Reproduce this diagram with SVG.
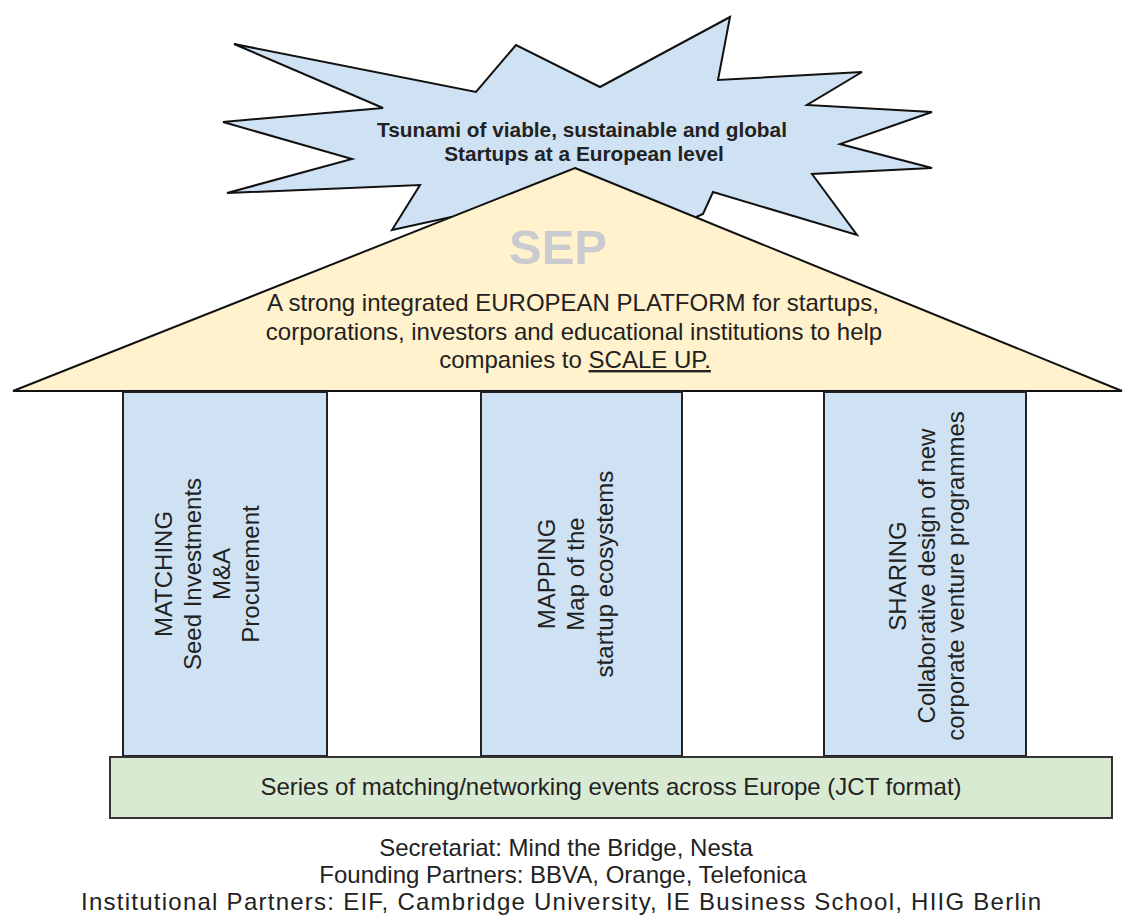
<svg xmlns="http://www.w3.org/2000/svg" width="1125" height="918" viewBox="0 0 1125 918">
<style>
  .t{font-family:"Liberation Sans",Arial,sans-serif;fill:#222;font-size:24px}
  .c{text-anchor:middle}
  .burst{font-weight:bold;font-size:20.8px}
  .foot{font-size:24px}
  .blue{fill:#cfe2f3;stroke:#222;stroke-width:2}
  .edge{stroke:#111;stroke-width:2;stroke-linejoin:miter}
</style>
<rect width="1125" height="918" fill="#fff"/>
<g id="starburst">
  <polygon class="edge" fill="#cfe2f3" points="234,44 476,92 516,45 600,87 730,17 718,80 862,72 807,105 932,112 840,144 932,168 812,174 857,235 713,192 703,214 600,260 500,260 451,217 392,230 420,185 227,193 352,159 223,122 383,108"/>
  <text class="t c burst" x="582" y="137">Tsunami of viable, sustainable and global</text>
  <text class="t c burst" x="584" y="161">Startups at a European level</text>
</g>
<g id="roof">
  <polygon class="edge" fill="#fff2cc" points="575,168 1122,391 13,391"/>
  <text x="558" y="264" font-family="Liberation Sans,Arial,sans-serif" font-weight="bold" font-size="49" fill="#c9cbd1" text-anchor="middle">SEP</text>
  <text class="t c" x="573" y="311">A strong integrated EUROPEAN PLATFORM for startups,</text>
  <text class="t c" x="574" y="340">corporations, investors and educational institutions to help</text>
  <text class="t c" x="575" y="368">companies to <tspan text-decoration="underline">SCALE UP.</tspan></text>
</g>
<g id="pillar-matching">
  <rect class="blue" x="123" y="392" width="204" height="364"/>
  <g transform="translate(0,574) rotate(-90)">
    <text class="t c" x="0" y="172">MATCHING</text>
    <text class="t c" x="0" y="201">Seed Investments</text>
    <text class="t c" x="0" y="230">M&amp;A</text>
    <text class="t c" x="0" y="259">Procurement</text>
  </g>
</g>
<g id="pillar-mapping">
  <rect class="blue" x="481" y="392" width="201" height="364"/>
  <g transform="translate(0,574) rotate(-90)">
    <text class="t c" x="0" y="555">MAPPING</text>
    <text class="t c" x="0" y="584">Map of the</text>
    <text class="t c" x="0" y="613">startup ecosystems</text>
  </g>
</g>
<g id="pillar-sharing">
  <rect class="blue" x="824" y="392" width="202" height="364"/>
  <g transform="translate(0,576) rotate(-90)">
    <text class="t c" x="0" y="906">SHARING</text>
    <text class="t c" x="0" y="935">Collaborative design of new</text>
    <text class="t c" x="0" y="964">corporate venture programmes</text>
  </g>
</g>
<g id="base">
  <rect x="110" y="757" width="1002" height="61" fill="#d9ead3" stroke="#333" stroke-width="2"/>
  <text class="t c" x="611" y="795">Series of matching/networking events across Europe (JCT format)</text>
</g>
<g id="partners">
  <text class="t c foot" x="566" y="856">Secretariat: Mind the Bridge, Nesta</text>
  <text class="t c foot" x="563" y="883">Founding Partners: BBVA, Orange, Telefonica</text>
  <text class="t c foot" x="561" y="910" textLength="960">Institutional Partners: EIF, Cambridge University, IE Business School, HIIG Berlin</text>
</g>
<g id="connectors"></g>
</svg>
